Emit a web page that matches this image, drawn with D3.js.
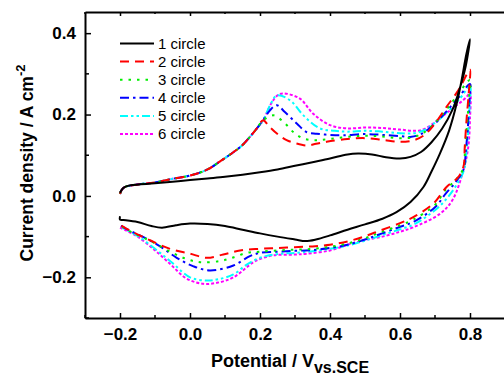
<!DOCTYPE html>
<html><head><meta charset="utf-8">
<script src="https://cdn.jsdelivr.net/npm/d3@7"></script>
<style>html,body{margin:0;padding:0;background:#fff;}svg{display:block;}</style>
</head><body>
<script>
// ---- data ----
const xTicks = [-0.2, 0.0, 0.2, 0.4, 0.6, 0.8];
const yTicks = [-0.2, 0.0, 0.2, 0.4];
const legendLabels = ["1 circle", "2 circle", "3 circle", "4 circle", "5 circle", "6 circle"];
const colors = ["#000000", "#ff0000", "#00ee00", "#0000ff", "#00ffff", "#ff00ff"];

const circle1 = [[-0.2,0.008],[-0.19,0.02],[-0.17,0.026],[-0.1,0.031],[-0.05,0.035],[0.0,0.039],[0.05,0.043],[0.1,0.047],[0.15,0.052],[0.2,0.058],[0.25,0.065],[0.3,0.074],[0.35,0.083],[0.4,0.092],[0.45,0.102],[0.48,0.104],[0.52,0.102],[0.56,0.095],[0.6,0.092],[0.63,0.096],[0.66,0.108],[0.69,0.132],[0.72,0.165],[0.75,0.212],[0.771,0.265],[0.788,0.32],[0.8,0.385],
  [0.79,0.35],[0.775,0.28],[0.762,0.227],[0.74,0.16],[0.714,0.104],[0.69,0.06],[0.667,0.022],[0.63,-0.015],[0.59,-0.04],[0.55,-0.056],[0.5,-0.07],[0.45,-0.083],[0.4,-0.097],[0.36,-0.107],[0.33,-0.111],[0.3,-0.107],[0.25,-0.1],[0.2,-0.092],[0.15,-0.083],[0.1,-0.074],[0.05,-0.069],[0.0,-0.068],[-0.04,-0.072],[-0.08,-0.078],[-0.11,-0.074],[-0.15,-0.064],[-0.19,-0.059],[-0.2,-0.058],[-0.2,-0.05]];

const forwardStart = [[-0.2,0.005],[-0.195,0.015],[-0.185,0.022],[-0.16,0.027],[-0.1,0.033],[-0.05,0.042],[0.0,0.05],[0.05,0.065],[0.086,0.085],[0.12,0.105],[0.15,0.125],[0.171,0.145],[0.19,0.165],[0.209,0.186]];

const circle2 = [[0.225,0.172],[0.25,0.152],[0.276,0.137],[0.3,0.13],[0.333,0.124],[0.36,0.128],[0.39,0.133],[0.45,0.14],[0.5,0.142],[0.55,0.138],[0.6,0.133],[0.64,0.137],[0.67,0.15],[0.7,0.178],[0.733,0.219],[0.767,0.26],[0.795,0.305],[0.8,0.31],
  [0.797,0.26],[0.79,0.186],[0.785,0.12],[0.781,0.071],[0.765,0.045],[0.733,0.022],[0.695,-0.019],[0.638,-0.052],[0.6,-0.067],[0.543,-0.085],[0.5,-0.099],[0.45,-0.112],[0.4,-0.12],[0.35,-0.124],[0.3,-0.126],[0.25,-0.128],[0.2,-0.13],[0.143,-0.134],[0.095,-0.144],[0.048,-0.152],[0.0,-0.142],[-0.057,-0.13],[-0.114,-0.109],[-0.16,-0.09],[-0.19,-0.076],[-0.2,-0.07]];

const circle3 = [[0.238,0.198],[0.267,0.182],[0.295,0.157],[0.324,0.141],[0.362,0.137],[0.4,0.14],[0.45,0.145],[0.5,0.148],[0.55,0.146],[0.6,0.142],[0.64,0.145],[0.67,0.157],[0.7,0.18],[0.74,0.22],[0.77,0.255],[0.8,0.285],
  [0.797,0.24],[0.792,0.18],[0.786,0.12],[0.781,0.068],[0.76,0.04],[0.73,0.015],[0.7,-0.022],[0.638,-0.058],[0.6,-0.072],[0.543,-0.09],[0.5,-0.104],[0.45,-0.117],[0.4,-0.125],[0.35,-0.13],[0.3,-0.132],[0.25,-0.134],[0.2,-0.137],[0.162,-0.14],[0.12,-0.152],[0.086,-0.16],[0.029,-0.163],[-0.01,-0.155],[-0.057,-0.137],[-0.11,-0.112],[-0.16,-0.092],[-0.19,-0.078],[-0.2,-0.072]];

const circle4 = [[0.228,0.21],[0.248,0.223],[0.271,0.206],[0.305,0.178],[0.333,0.157],[0.362,0.153],[0.4,0.15],[0.438,0.149],[0.5,0.152],[0.55,0.15],[0.6,0.147],[0.629,0.145],[0.66,0.152],[0.7,0.178],[0.74,0.215],[0.77,0.245],[0.8,0.275],
  [0.798,0.23],[0.794,0.17],[0.788,0.11],[0.782,0.066],[0.76,0.035],[0.73,0.005],[0.7,-0.028],[0.64,-0.063],[0.6,-0.076],[0.543,-0.094],[0.5,-0.107],[0.45,-0.12],[0.4,-0.128],[0.35,-0.133],[0.3,-0.135],[0.25,-0.137],[0.2,-0.14],[0.171,-0.148],[0.124,-0.171],[0.057,-0.183],[0.01,-0.173],[-0.038,-0.152],[-0.08,-0.127],[-0.12,-0.107],[-0.16,-0.09],[-0.19,-0.077],[-0.2,-0.072]];

const circle5 = [[0.23,0.225],[0.248,0.247],[0.286,0.235],[0.324,0.198],[0.371,0.166],[0.414,0.16],[0.45,0.158],[0.5,0.16],[0.55,0.158],[0.6,0.154],[0.64,0.154],[0.67,0.162],[0.7,0.18],[0.74,0.21],[0.77,0.238],[0.8,0.268],
  [0.799,0.225],[0.796,0.17],[0.79,0.11],[0.783,0.064],[0.76,0.025],[0.73,-0.01],[0.7,-0.035],[0.64,-0.07],[0.6,-0.082],[0.543,-0.098],[0.5,-0.11],[0.45,-0.122],[0.4,-0.13],[0.35,-0.136],[0.3,-0.14],[0.25,-0.143],[0.2,-0.152],[0.16,-0.17],[0.124,-0.193],[0.08,-0.205],[0.048,-0.208],[0.0,-0.2],[-0.05,-0.165],[-0.1,-0.13],[-0.15,-0.098],[-0.185,-0.082],[-0.2,-0.075]];

const circle6 = [[0.232,0.227],[0.25,0.247],[0.267,0.252],[0.314,0.239],[0.352,0.202],[0.4,0.174],[0.447,0.166],[0.5,0.168],[0.55,0.167],[0.6,0.163],[0.657,0.161],[0.69,0.175],[0.72,0.195],[0.75,0.215],[0.79,0.243],[0.8,0.255],
  [0.8,0.19],[0.795,0.12],[0.781,0.063],[0.75,-0.01],[0.714,-0.044],[0.638,-0.077],[0.6,-0.088],[0.55,-0.1],[0.495,-0.109],[0.45,-0.12],[0.4,-0.134],[0.333,-0.142],[0.3,-0.144],[0.238,-0.146],[0.2,-0.155],[0.181,-0.163],[0.124,-0.2],[0.08,-0.213],[0.038,-0.216],[-0.01,-0.203],[-0.057,-0.167],[-0.105,-0.13],[-0.15,-0.1],[-0.185,-0.084],[-0.2,-0.078]];

// ---- layout ----
const W = 504, H = 377;
const M = {left: 85, top: 12, bottom: 318, right: 505};
const x = d3.scaleLinear().domain([-0.3, 0.9]).range([M.left, M.right]);
const y = d3.scaleLinear().domain([-0.3, 0.452]).range([M.bottom, M.top]);

const svg = d3.select("body").append("svg").attr("width", W).attr("height", H);

const series = [
  circle1,
  forwardStart.concat(circle2),
  forwardStart.concat(circle3),
  forwardStart.concat(circle4),
  forwardStart.concat(circle5),
  forwardStart.concat(circle6)
];
const dashes = [null, "9,6", "2.5,6", "9,4,2.5,4", "8,3,2.5,3,2.5,3", "3,2"];

svg.append("clipPath").attr("id", "c").append("rect")
  .attr("x", M.left).attr("y", M.top).attr("width", M.right - M.left).attr("height", M.bottom - M.top);

const line = d3.line().x(d => x(d[0])).y(d => y(d[1])).curve(d3.curveCatmullRom.alpha(0.5));
const g = svg.append("g").attr("clip-path", "url(#c)");
[5,4,3,2,1,0].forEach(i => {
  g.append("path").datum(series[i]).attr("d", line)
    .attr("fill", "none").attr("stroke", colors[i]).attr("stroke-width", 2)
    .attr("stroke-dasharray", dashes[i]);
});

// axes
const ff = "Liberation Sans, Arial, sans-serif";
const axG = svg.append("g");
const xMinor = d3.range(-0.3, 0.95, 0.1).map(v => +v.toFixed(2)).filter(v => !xTicks.some(t => Math.abs(t - v) < 1e-6));
const yMinor = [-0.3, -0.1, 0.1, 0.3];

const bottomAxis = d3.axisBottom(x).tickValues(xTicks).tickFormat(d3.format(".1f")).tickSizeInner(-5).tickSizeOuter(0).tickPadding(10);
const bx = axG.append("g").attr("transform", `translate(0,${M.bottom})`).call(bottomAxis);
const leftAxis = d3.axisLeft(y).tickValues(yTicks).tickFormat(d3.format(".1f")).tickSizeInner(-6).tickSizeOuter(0).tickPadding(9);
const lx = axG.append("g").attr("transform", `translate(${M.left},0)`).call(leftAxis);
const topAxis = d3.axisTop(x).tickValues(xTicks).tickFormat("").tickSizeInner(-4).tickSizeOuter(0);
const tx = axG.append("g").attr("transform", `translate(0,${M.top})`).call(topAxis);

[bx, lx, tx].forEach(a => {
  a.select(".domain").attr("stroke", "#000").attr("stroke-width", 2);
  a.selectAll(".tick line").attr("stroke", "#000").attr("stroke-width", 1.5);
  a.selectAll(".tick text").attr("font-family", ff)
    .attr("font-weight", "bold").attr("font-size", 17).attr("fill", "#000");
});
axG.append("g").selectAll("line").data(xMinor).join("line")
  .attr("x1", d => x(d)).attr("x2", d => x(d)).attr("y1", M.bottom).attr("y2", M.bottom - 3)
  .attr("stroke", "#000").attr("stroke-width", 1.5);
axG.append("g").selectAll("line").data(xMinor).join("line")
  .attr("x1", d => x(d)).attr("x2", d => x(d)).attr("y1", M.top).attr("y2", M.top + 2)
  .attr("stroke", "#000").attr("stroke-width", 1.5);
axG.append("g").selectAll("line").data(yMinor).join("line")
  .attr("x1", M.left).attr("x2", M.left + 4).attr("y1", d => y(d)).attr("y2", d => y(d))
  .attr("stroke", "#000").attr("stroke-width", 1.5);

// axis titles
const xt = svg.append("text").attr("x", 290).attr("y", 367).attr("text-anchor", "middle")
  .attr("font-family", ff).attr("font-weight", "bold").attr("font-size", 18);
xt.append("tspan").text("Potential / V");
xt.append("tspan").attr("dy", 6).attr("font-size", 16).text("vs.SCE");

const yt = svg.append("text").attr("transform", "translate(33,163) rotate(-90)").attr("text-anchor", "middle")
  .attr("font-family", ff).attr("font-weight", "bold").attr("font-size", 17.5);
yt.append("tspan").text("Current density / A cm");
yt.append("tspan").attr("dy", -8).attr("font-size", 13).text("-2");

// legend
const lg = svg.append("g");
legendLabels.forEach((lab, i) => {
  const cy = 43.5 + i * 18.1;
  lg.append("line").attr("x1", 120).attr("x2", 154).attr("y1", cy).attr("y2", cy)
    .attr("stroke", colors[i]).attr("stroke-width", 2).attr("stroke-dasharray", dashes[i]);
  lg.append("text").attr("x", 158).attr("y", cy + 5).attr("font-family", ff).attr("font-size", 15)
    .attr("fill", "#000").text(lab);
});
</script>
</body></html>
